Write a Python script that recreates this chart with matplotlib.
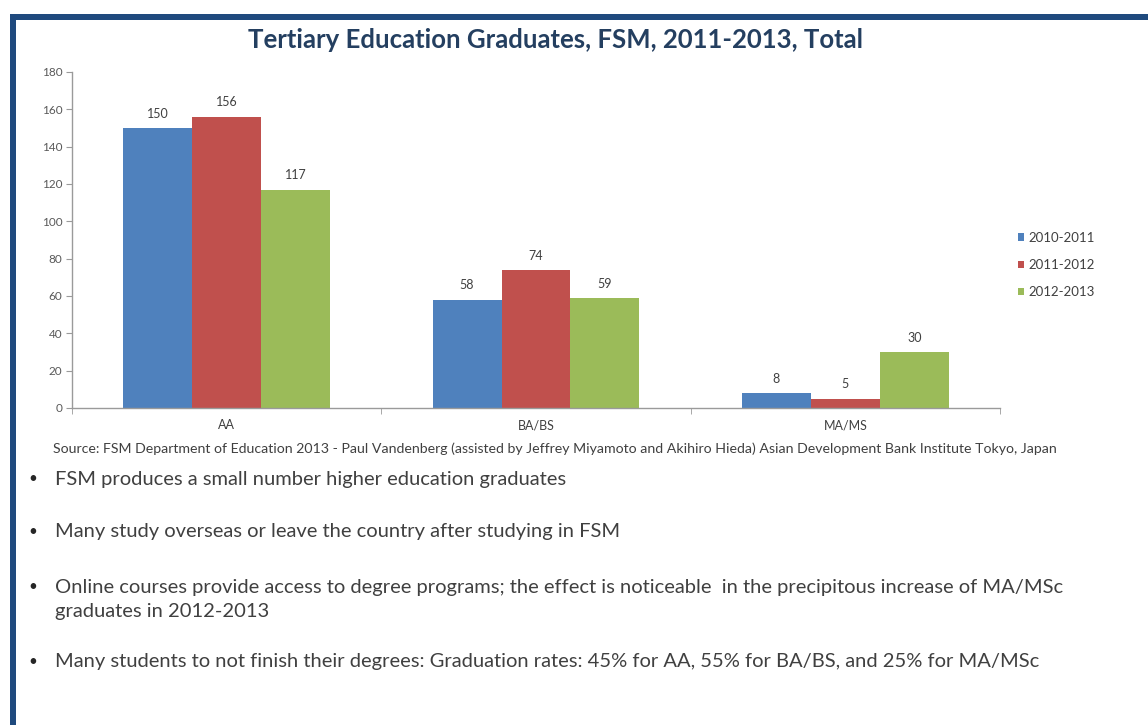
import matplotlib
matplotlib.use("Agg")
import matplotlib.pyplot as plt
import numpy as np
from matplotlib.patches import Rectangle

plt.rcParams["font.family"] = ["Lato", "DejaVu Sans"]

CATEGORIES = ["AA", "BA/BS", "MA/MS"]
SERIES = ["2010-2011", "2011-2012", "2012-2013"]
VALUES_2010_2011 = [150, 58, 8]
VALUES_2011_2012 = [156, 74, 5]
VALUES_2012_2013 = [117, 59, 30]
COLORS = ["#4F81BD", "#C0504D", "#9BBB59"]

TITLE = "Tertiary Education Graduates, FSM, 2011-2013, Total"
SOURCE = ("Source: FSM Department of Education 2013 - Paul Vandenberg (assisted by Jeffrey Miyamoto "
          "and Akihiro Hieda) Asian Development Bank Institute Tokyo, Japan")
BULLETS = [
    ["FSM produces a small number higher education graduates"],
    ["Many study overseas or leave the country after studying in FSM"],
    ["Online courses provide access to degree programs; the effect is noticeable  in the precipitous increase of MA/MSc",
     "graduates in 2012-2013"],
    ["Many students to not finish their degrees: Graduation rates: 45% for AA, 55% for BA/BS, and 25% for MA/MSc"],
]
BULLET_ROWS = [479, 532, 587, 662]  # pixel row of each bullet's first line

W, H = 1148, 725
fig = plt.figure(figsize=(W / 100, H / 100), dpi=100)
fig.patch.set_facecolor("white")

# slide frame: top and left bars
frame = "#1F4A7E"
fig.add_artist(Rectangle((10 / W, 0), 6 / W, 1 - 14 / H, transform=fig.transFigure,
                         facecolor=frame, edgecolor="none"))
fig.add_artist(Rectangle((10 / W, 1 - 20 / H), 1 - 10 / W, 6 / H, transform=fig.transFigure,
                         facecolor=frame, edgecolor="none"))

ax = fig.add_axes([72 / W, 1 - 408 / H, (1000 - 72) / W, (408 - 72) / H])
x = np.arange(len(CATEGORIES))
width = 0.223
series_values = [VALUES_2010_2011, VALUES_2011_2012, VALUES_2012_2013]
for i, (name, vals, color) in enumerate(zip(SERIES, series_values, COLORS)):
    pos = x + (i - 1) * width
    ax.bar(pos, vals, width=width, color=color, label=name, zorder=2)
    for px, v in zip(pos, vals):
        ax.annotate(str(v), (px, v), xytext=(0, 6), textcoords="offset points",
                    ha="center", va="bottom", fontsize=9, color="#404040")

ax.set_xlim(-0.5, 2.5)
ax.set_ylim(0, 180)
ax.set_yticks(np.arange(0, 181, 20))
ax.set_xticks(x)
ax.set_xticklabels(CATEGORIES)
ax.set_xticks([-0.5, 0.5, 1.5, 2.5], minor=True)
ax.tick_params(axis="x", which="major", length=0, pad=8, labelsize=9, labelcolor="#404040")
ax.tick_params(axis="x", which="minor", length=4, color="#9a9a9a", direction="out")
ax.tick_params(axis="y", length=4, color="#9a9a9a", labelsize=8.5, labelcolor="#595959", pad=3)
for side in ("top", "right"):
    ax.spines[side].set_visible(False)
for side in ("left", "bottom"):
    ax.spines[side].set_color("#9a9a9a")
    ax.spines[side].set_linewidth(1.0)

handles, labels = ax.get_legend_handles_labels()
fig.legend(handles, labels, loc="center left", bbox_to_anchor=(1006 / W, 1 - 265 / H),
           frameon=False, fontsize=9.5, handlelength=0.5, handleheight=0.5,
           handletextpad=0.3, labelspacing=1.15, labelcolor="#404040")

fig.text(555 / W, 1 - 40 / H, TITLE, ha="center", va="center", fontsize=18.5,
         fontweight="bold", color="#243F60")
fig.text(53 / W, 1 - 449 / H, SOURCE, ha="left", va="center", fontsize=10.2, color="#404040")

for lines, row in zip(BULLETS, BULLET_ROWS):
    fig.text(28 / W, 1 - row / H, "\u2022", ha="left", va="center", fontsize=11, color="#262626")
    for k, line in enumerate(lines):
        fig.text(55 / W, 1 - (row + 24 * k) / H, line, ha="left", va="center",
                 fontsize=14.5, color="#404040")

fig.savefig("out.png", dpi=100)
